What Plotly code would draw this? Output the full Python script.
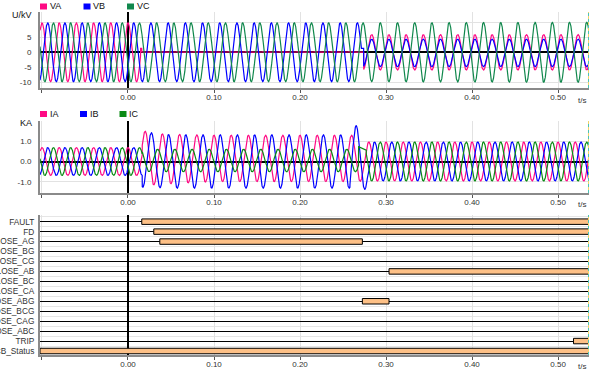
import numpy as np
import plotly.graph_objects as go

# ---------------- data ----------------
F_HZ = 50.0
T_START, T_END = -0.1023, 0.536
DT = 0.0001

# voltage keyframes (time s, amplitude kV, phase deg, offset kV)
VA_t = [-0.11, 0.0146, 0.01461, 0.0160, 0.01601, 0.2712, 0.27121, 0.2740, 0.27401, 0.54]
VA_a = [9.8, 9.8, 0.0, 0.0, 0.1, 0.1, 0.0, 0.0, 5.9, 5.9]
VA_p = [0, 0, 0, 0, 0, 0, 0, 0, -60, -60]
VA_o = [0, 0, 1.3, 1.3, 0.1, 0.1, 0.05, 0.05, 0, 0]

VB_t = [-0.11, 0.2705, 0.27051, 0.2740, 0.27401, 0.54]
VB_a = [9.8, 9.8, 0.0, 0.0, 4.6, 4.6]
VB_p = [-120, -120, 0, 0, -60, -60]
VB_o = [0, 0, 1.3, 1.3, -0.2, -0.2]

VC_t = [-0.11, 0.274, 0.54]
VC_a = [9.8, 9.8, 10.0]
VC_p = [120, 120, 120]
VC_o = [0, 0, 0]

# current keyframes (time s, amplitude kA, phase deg, offset kA)
IA_t = [-0.11, 0.0165, 0.01651, 0.04, 0.10, 0.262, 0.279, 0.54]
IA_a = [0.68, 0.68, 1.35, 1.22, 1.13, 1.13, 0.95, 0.95]
IA_p = [0, 0, 0, 0, 0, 0, 0, 0]
IA_o = [0, 0, 0.15, 0.12, 0.15, 0.15, 0, 0]

IB_t = [-0.11, 0.0165, 0.01651, 0.05, 0.258, 0.25801, 0.270, 0.27001, 0.279, 0.27901, 0.54]
IB_a = [0.68, 0.68, 1.35, 1.30, 1.30, 1.75, 1.75, 1.36, 1.36, 0.95, 0.95]
IB_p = [-120, -120, -130, -130, -130, -95, -95, -95, -95, -120, -120]
IB_o = [0, 0, 0.1, 0, 0, 0, 0, 0, 0, 0, 0]

IC_t = [-0.11, 0.0165, 0.01651, 0.268, 0.26801, 0.277, 0.27701, 0.54]
IC_a = [0.68, 0.68, 0.55, 0.55, 0.0, 0.0, 0.95, 0.95]
IC_p = [120, 120, 100, 100, 0, 0, 120, 120]
IC_o = [0, 0, 0.05, 0.05, 0.72, 0.55, 0, 0]

# digital channels
DIG_NAMES = ["FAULT", "FD", "CLOSE_AG", "CLOSE_BG", "CLOSE_CG", "CLOSE_AB", "CLOSE_BC",
             "CLOSE_CA", "CLOSE_ABG", "CLOSE_BCG", "CLOSE_CAG", "CLOSE_ABC", "TRIP", "CB_Status"]
DIG_ON_NAME = ["FAULT", "FD", "CLOSE_AG", "CLOSE_AB", "CLOSE_ABG", "TRIP", "CB_Status"]
DIG_ON_START = [0.0160, 0.0300, 0.0370, 0.3035, 0.2725, 0.5180, T_START]
DIG_ON_END = [T_END, T_END, 0.2725, T_END, 0.3035, T_END, T_END]

X_TICKS = [-0.1, 0.0, 0.1, 0.2, 0.3, 0.4, 0.5]
X_TICKTEXT = ["", "0.00", "0.10", "0.20", "0.30", "0.40", "0.50"]

C_A, C_B, C_VC, C_IC = "#ff0a84", "#0000ff", "#11884d", "#0a8a14"

# ---------------- build ----------------
t = np.arange(T_START, T_END + DT, DT)


def wave(kt, ka, kp, ko):
    kt = np.asarray(kt, float)
    a = np.interp(t, kt, ka)
    o = np.interp(t, kt, ko)
    idx = np.clip(np.searchsorted(kt, t, side="right") - 1, 0, len(kt) - 1)
    p = np.deg2rad(np.asarray(kp, float))[idx]
    return a * np.cos(2 * np.pi * F_HZ * t + p) + o


W = 599
H = 372
ML, MR = 40, 10


def px(xp):
    return (xp - ML) / (W - ML - MR)


def py(yp):
    return 1 - yp / H


FONT = "Liberation Sans, Arial, sans-serif"
fig = go.Figure()

for name, sig, col in [("VA", wave(VA_t, VA_a, VA_p, VA_o), C_A),
                       ("VB", wave(VB_t, VB_a, VB_p, VB_o), C_B),
                       ("VC", wave(VC_t, VC_a, VC_p, VC_o), C_VC)]:
    fig.add_trace(go.Scatter(x=t, y=sig, mode="lines", name=name,
                             line=dict(color=col, width=1.2), xaxis="x", yaxis="y"))

for name, sig, col in [("IA", wave(IA_t, IA_a, IA_p, IA_o), C_A),
                       ("IB", wave(IB_t, IB_a, IB_p, IB_o), C_B),
                       ("IC", wave(IC_t, IC_a, IC_p, IC_o), C_IC)]:
    fig.add_trace(go.Scatter(x=t, y=sig, mode="lines", name=name,
                             line=dict(color=col, width=1.2), xaxis="x2", yaxis="y2"))

n = len(DIG_NAMES)
row_y = {nm: n - 1 - i for i, nm in enumerate(DIG_NAMES)}
fig.add_trace(go.Bar(
    orientation="h",
    y=[row_y[nm] for nm in DIG_ON_NAME],
    base=DIG_ON_START,
    x=[e - s for s, e in zip(DIG_ON_START, DIG_ON_END)],
    width=0.55,
    marker=dict(color="#fdc086", line=dict(color="#000000", width=1)),
    xaxis="x3", yaxis="y3", hoverinfo="skip"))

xcommon = dict(range=[T_START, T_END], tickvals=X_TICKS, ticktext=X_TICKTEXT,
               ticks="outside", ticklen=3, tickcolor="#555555", ticklabelstandoff=-3,
               showline=True, linecolor="#8a8a8a", linewidth=2,
               showgrid=True, gridcolor="#e2e2e2", gridwidth=1,
               zeroline=True, zerolinecolor="#000000", zerolinewidth=1.5,
               tickfont=dict(size=8, color="#333333", family=FONT),
               automargin=False, fixedrange=True)
ycommon = dict(showline=True, linecolor="#8a8a8a", linewidth=2,
               showgrid=True, gridcolor="#e2e2e2", gridwidth=1,
               ticks="outside", ticklen=5, tickcolor="rgba(0,0,0,0)",
               tickfont=dict(size=8, color="#333333", family=FONT),
               automargin=False, fixedrange=True)

D1 = [py(88), py(12)]
D2 = [py(193), py(121)]
D3 = [py(355), py(215)]

fig.update_layout(
    width=W, height=H,
    margin=dict(l=ML, r=MR, t=0, b=0, pad=0),
    paper_bgcolor="white", plot_bgcolor="white",
    showlegend=False,
    font=dict(family=FONT, size=8, color="#222222"),
    xaxis=dict(xcommon, anchor="y", domain=[0, 1]),
    xaxis2=dict(xcommon, anchor="y2", domain=[0, 1]),
    xaxis3=dict(xcommon, anchor="y3", domain=[0, 1]),
    yaxis=dict(ycommon, anchor="x", domain=D1, range=[-11.9, 13.43],
               tickvals=[-10, -5, 0, 5, 10], ticktext=["-10", "-5", "0", "5", ""],
               zeroline=True, zerolinecolor="#000000", zerolinewidth=1.5),
    yaxis2=dict(ycommon, anchor="x2", domain=D2, range=[-1.537, 1.976],
                tickvals=[-1, 0, 1], ticktext=["-1.0", "0.0", "1.0"],
                zeroline=True, zerolinecolor="#000000", zerolinewidth=1.5),
    yaxis3=dict(ycommon, anchor="x3", domain=D3, range=[-0.40, n - 1 + 0.67],
                tickvals=list(range(n)), ticktext=DIG_NAMES[::-1], ticklen=2,
                tickfont=dict(size=8.3, color="#333333", family=FONT),
                gridcolor="#000000", gridwidth=1, zeroline=False,
                minor=dict(tickvals=[i + 0.5 for i in range(-1, n)], showgrid=True,
                           gridcolor="#e6e6e6", gridwidth=1, ticks="")),
)

# right-edge cursor line (yellow/teal dashed) in each panel
for ya in ["y", "y2", "y3"]:
    xa = {"y": "x", "y2": "x2", "y3": "x3"}[ya]
    fig.add_shape(type="line", xref=xa, yref=ya + " domain", x0=T_END, x1=T_END, y0=0, y1=1,
                  line=dict(color="#f2d36b", width=2), layer="above")
    fig.add_shape(type="line", xref=xa, yref=ya + " domain", x0=T_END, x1=T_END, y0=0, y1=1,
                  line=dict(color="#4fc3b5", width=2, dash="3px,3px"), layer="above")

# legends (colored squares + labels)
leg = [("VA", C_A, 40, 6.5), ("VB", C_B, 83.5, 6.5), ("VC", C_VC, 127, 6.5),
       ("IA", C_A, 40, 114), ("IB", C_B, 80, 114), ("IC", C_IC, 119.5, 114)]
for txt, col, x0, yc in leg:
    fig.add_shape(type="rect", xref="paper", yref="paper",
                  x0=px(x0), x1=px(x0 + 7), y0=py(yc + 3), y1=py(yc - 3),
                  fillcolor=col, line=dict(width=0))
    fig.add_annotation(xref="paper", yref="paper", x=px(x0 + 7.5), y=py(yc),
                       text=txt, showarrow=False, xanchor="left", yanchor="middle",
                       font=dict(size=9, color="#111111", family=FONT))

# unit labels
fig.add_annotation(xref="paper", yref="paper", x=px(34), y=py(15.5), text="U/kV",
                   showarrow=False, xanchor="right", yanchor="middle",
                   font=dict(size=9, color="#111111", family=FONT))
fig.add_annotation(xref="paper", yref="paper", x=px(34), y=py(122.5), text="KA",
                   showarrow=False, xanchor="right", yanchor="middle",
                   font=dict(size=9, color="#111111", family=FONT))
for yc in [100, 205, 366]:
    fig.add_annotation(xref="paper", yref="paper", x=px(588), y=py(yc), text="t/s",
                       showarrow=False, xanchor="right", yanchor="middle",
                       font=dict(size=8, color="#333333", family=FONT))

fig.write_html("out.html", config={"displayModeBar": False},
               post_script="document.body.style.margin='0';document.body.style.overflow='hidden';")
